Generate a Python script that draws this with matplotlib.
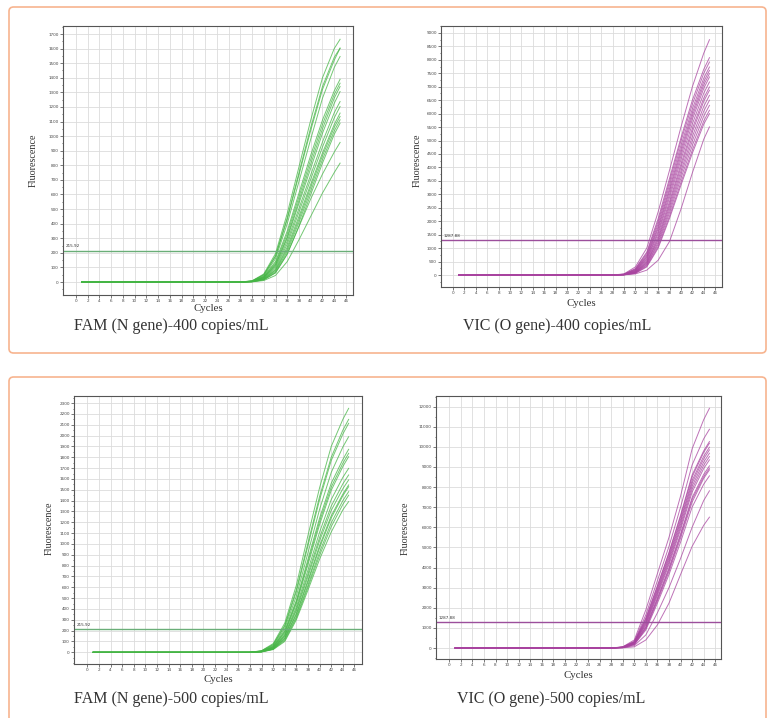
import matplotlib
matplotlib.use("Agg")
import matplotlib.pyplot as plt
from matplotlib.patches import FancyBboxPatch
from matplotlib.ticker import MultipleLocator, AutoMinorLocator

cycles = [1, 28, 30, 32, 34, 36, 38, 40, 42, 44, 45]

# FAM (N gene) - 400 copies/mL
fam_400 = [
    [0, 0, 8, 55, 195, 470, 790, 1110, 1400, 1600, 1664],
    [0, 0, 7, 50, 180, 440, 750, 1060, 1340, 1540, 1603],
    [0, 0, 7, 48, 175, 430, 735, 1040, 1320, 1520, 1603],
    [0, 0, 6, 42, 160, 400, 690, 980, 1260, 1470, 1546],
    [0, 0, 5, 38, 140, 350, 610, 870, 1110, 1310, 1390],
    [0, 0, 5, 35, 130, 330, 585, 840, 1080, 1285, 1363],
    [0, 0, 4, 32, 120, 310, 560, 810, 1050, 1260, 1340],
    [0, 0, 4, 30, 115, 300, 540, 780, 1020, 1225, 1306],
    [0, 0, 4, 28, 105, 280, 505, 735, 960, 1160, 1237],
    [0, 0, 3, 25, 95, 260, 480, 705, 925, 1125, 1203],
    [0, 0, 3, 22, 85, 240, 450, 670, 885, 1080, 1158],
    [0, 0, 3, 20, 80, 225, 430, 650, 865, 1060, 1135],
    [0, 0, 2, 18, 72, 210, 410, 625, 840, 1035, 1112],
    [0, 0, 2, 15, 62, 190, 385, 600, 815, 1012, 1089],
    [0, 0, 2, 15, 65, 195, 380, 570, 740, 890, 957],
    [0, 0, 1, 10, 45, 140, 290, 450, 610, 750, 815],
]

# VIC (O gene) - 400 copies/mL
vic_400 = [
    [0, 0, 40, 300, 1000, 2350, 3900, 5500, 7000, 8250, 8750],
    [0, 0, 30, 240, 850, 2100, 3600, 5100, 6500, 7650, 8082],
    [0, 0, 28, 220, 800, 2000, 3480, 4980, 6350, 7500, 7920],
    [0, 0, 25, 200, 740, 1900, 3350, 4820, 6180, 7320, 7735],
    [0, 0, 22, 180, 690, 1800, 3220, 4680, 6040, 7190, 7610],
    [0, 0, 20, 165, 650, 1720, 3120, 4560, 5920, 7070, 7490],
    [0, 0, 18, 150, 600, 1620, 3000, 4430, 5790, 6940, 7364],
    [0, 0, 16, 135, 560, 1540, 2880, 4290, 5620, 6760, 7178],
    [0, 0, 14, 120, 510, 1440, 2740, 4130, 5450, 6580, 6990],
    [0, 0, 12, 110, 470, 1360, 2640, 4010, 5320, 6460, 6870],
    [0, 0, 11, 100, 440, 1290, 2540, 3870, 5150, 6270, 6683],
    [0, 0, 10, 90, 400, 1210, 2430, 3740, 4990, 6090, 6500],
    [0, 0, 9, 80, 370, 1140, 2320, 3600, 4820, 5910, 6310],
    [0, 0, 8, 70, 330, 1060, 2200, 3450, 4650, 5730, 6126],
    [0, 0, 7, 60, 300, 1000, 2110, 3340, 4530, 5610, 6000],
    [0, 0, 5, 40, 180, 550, 1250, 2450, 3800, 5050, 5507],
]

# FAM (N gene) - 500 copies/mL
fam_500 = [
    [0, 0, 15, 80, 270, 620, 1080, 1520, 1900, 2150, 2252],
    [0, 0, 13, 72, 250, 580, 1010, 1440, 1800, 2050, 2150],
    [0, 0, 12, 68, 240, 560, 985, 1410, 1770, 2015, 2114],
    [0, 0, 10, 60, 220, 520, 920, 1320, 1660, 1895, 1990],
    [0, 0, 9, 55, 200, 480, 860, 1240, 1560, 1780, 1874],
    [0, 0, 8, 50, 190, 465, 835, 1210, 1525, 1745, 1837],
    [0, 0, 8, 48, 180, 450, 810, 1180, 1495, 1715, 1806],
    [0, 0, 7, 44, 165, 420, 760, 1110, 1410, 1615, 1698],
    [0, 0, 6, 40, 155, 400, 725, 1060, 1350, 1555, 1637],
    [0, 0, 6, 38, 150, 385, 700, 1030, 1310, 1510, 1591],
    [0, 0, 5, 34, 135, 360, 665, 985, 1260, 1460, 1545],
    [0, 0, 5, 32, 130, 350, 650, 965, 1240, 1445, 1529],
    [0, 0, 4, 30, 120, 330, 620, 925, 1195, 1400, 1483],
    [0, 0, 4, 28, 110, 315, 600, 895, 1160, 1365, 1450],
    [0, 0, 3, 25, 100, 300, 575, 860, 1110, 1315, 1391],
]

# VIC (O gene) - 500 copies/mL
vic_500 = [
    [0, 0, 60, 400, 1900, 3700, 5500, 7550, 9900, 11350, 11920],
    [0, 0, 50, 340, 1650, 3350, 5050, 7000, 9100, 10400, 10877],
    [0, 0, 45, 310, 1500, 3100, 4750, 6600, 8600, 9800, 10265],
    [0, 0, 42, 300, 1450, 3050, 4700, 6520, 8500, 9720, 10182],
    [0, 0, 40, 280, 1380, 2950, 4580, 6380, 8330, 9530, 9983],
    [0, 0, 38, 270, 1320, 2870, 4480, 6270, 8200, 9400, 9851],
    [0, 0, 35, 255, 1260, 2780, 4370, 6140, 8050, 9240, 9685],
    [0, 0, 32, 240, 1200, 2700, 4260, 6010, 7900, 9080, 9520],
    [0, 0, 30, 225, 1140, 2610, 4150, 5880, 7750, 8920, 9354],
    [0, 0, 27, 205, 1060, 2480, 3980, 5670, 7480, 8630, 9056],
    [0, 0, 25, 195, 1020, 2420, 3900, 5580, 7380, 8520, 8940],
    [0, 0, 22, 180, 960, 2340, 3800, 5460, 7250, 8430, 8858],
    [0, 0, 20, 165, 900, 2230, 3650, 5260, 7000, 8140, 8560],
    [0, 0, 15, 120, 650, 1750, 3000, 4450, 6000, 7330, 7815],
    [0, 0, 8, 60, 400, 1150, 2230, 3650, 5050, 6100, 6507],
]

captions = ["FAM (N gene)-400 copies/mL", "VIC (O gene)-400 copies/mL",
            "FAM (N gene)-500 copies/mL", "VIC (O gene)-500 copies/mL"]
thresholds = [215.92, 1287.88, 215.92, 1287.88]
ytick_steps = [100, 500, 100, 1000]
ytick_tops = [1700, 9000, 2300, 12000]

W, H = 773, 718
GREEN = "#45b545"
PURPLE = "#a8439f"

plt.rcParams["font.family"] = ["Liberation Serif", "DejaVu Serif"]

fig = plt.figure(figsize=(W / 100, H / 100), dpi=100)

# orange rounded frames around each pair of charts
for (x0, y0, x1, y1) in [(9, 7, 766, 353), (9, 377, 766, 740)]:
    box = FancyBboxPatch((x0 / W, 1 - y1 / H), (x1 - x0) / W, (y1 - y0) / H,
                         boxstyle="round,pad=0,rounding_size=0.006",
                         transform=fig.transFigure, facecolor="none",
                         edgecolor="#f7b48f", linewidth=1.2, zorder=0)
    fig.patches.append(box)

# axes boxes in pixels: left, top, right, bottom
axes_px = [(63, 26, 353, 295), (441, 26, 722, 287),
           (74, 396, 362, 664), (436, 396, 721, 659)]
xlims = [(-2.2, 47.2), (-2.1, 47.2), (-2.3, 47.3), (-2.3, 47.0)]
ylims = [(-89, 1755), (-446, 9260), (-108, 2366), (-546, 12530)]
ylabel_px = [(33, 160), (417, 160), (49, 528), (405, 528)]
xlabel_y = [309, 303, 679, 676]
caption_px = [(74, 326), (463, 326), (74, 699), (457, 699)]

datasets = [fam_400, vic_400, fam_500, vic_500]
colors = [GREEN, PURPLE, GREEN, PURPLE]
thr_colors = ["#6aae78", "#9c4f9c", "#6aae78", "#9c4f9c"]

for i in range(4):
    l, t, r, b = axes_px[i]
    ax = fig.add_axes([l / W, 1 - b / H, (r - l) / W, (b - t) / H])
    for curve in datasets[i]:
        ax.plot(cycles, curve, color=colors[i], lw=0.7, alpha=0.75)
    ax.axhline(thresholds[i], color=thr_colors[i], lw=1.0)
    ax.annotate(f"{thresholds[i]:.2f}", xy=(0.008, thresholds[i]),
                xycoords=("axes fraction", "data"), xytext=(0, 1.5),
                textcoords="offset points", fontsize=3, color="#333333",
                family="DejaVu Sans", va="bottom")
    ax.set_xlim(*xlims[i])
    ax.set_ylim(*ylims[i])
    ax.set_xticks(range(0, 47, 2))
    ax.set_yticks(range(0, ytick_tops[i] + 1, ytick_steps[i]))
    ax.yaxis.set_minor_locator(AutoMinorLocator(2))
    ax.tick_params(labelsize=3, length=2, width=0.5, pad=1,
                   colors="#444444", labelfontfamily="DejaVu Sans")
    ax.tick_params(which="minor", length=1, width=0.4)
    ax.grid(True, color="#dcdcdc", lw=0.6)
    ax.set_axisbelow(True)
    for sp in ax.spines.values():
        sp.set_color("#555555")
        sp.set_linewidth(0.8)

    lx, ly = ylabel_px[i]
    fig.text(lx / W, 1 - ly / H, "Fluorescence", rotation=90, fontsize=7.3,
             color="#333333", ha="center", va="center")
    fig.text((l + r) / 2 / W, 1 - xlabel_y[i] / H, "Cycles", fontsize=7.8,
             color="#333333", ha="center", va="center")
    cx, cy = caption_px[i]
    fig.text(cx / W, 1 - cy / H, captions[i], fontsize=11.5,
             color="#333333", ha="left", va="center")

fig.savefig("out.png", dpi=100)
